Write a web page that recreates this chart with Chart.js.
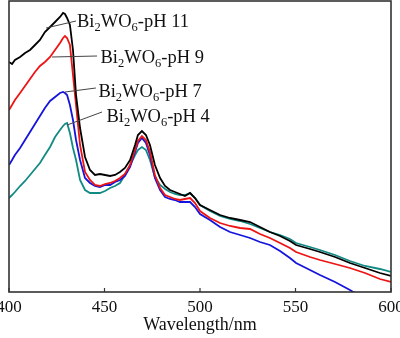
<!DOCTYPE html>
<html lang="en">
<head>
  <meta charset="UTF-8">
  <title>Bi2WO6 PL spectra</title>
  <script src="https://cdn.jsdelivr.net/npm/chart.js"></script>
  <style>
    html, body { margin: 0; padding: 0; background: #fff; }
    .wrap { width: 400px; height: 338px; position: relative; }
  </style>
</head>
<body>
  <div class="wrap">
    <canvas id="plChart" width="400" height="338"></canvas>
  </div>

  <script>
    // wavelength grid (nm) shared by all four spectra
    const wavelengths = [
      400.0, 401.6, 403.1, 405.8, 408.4, 411.0, 413.6, 416.2, 418.8, 421.5,
      424.1, 426.7, 428.3, 429.3, 430.4, 431.9, 433.5, 435.1, 437.2, 439.8,
      442.4, 445.0, 447.6, 450.3, 452.9, 455.5, 458.1, 460.7, 463.4, 466.0,
      467.5, 469.6, 471.7, 473.8, 476.4, 479.1, 481.7, 484.3, 486.9, 489.5,
      492.1, 494.8, 497.4, 500.0, 505.2, 510.5, 515.7, 521.0, 526.2, 531.4,
      536.6, 541.9, 547.1, 550.3, 557.6, 562.8, 570.7, 578.5, 586.4, 594.2,
      600.0
    ];

    // PL intensity (a.u.)
    const pH11 = [
      230, 228, 232, 235, 239, 242, 247, 252, 260, 265,
      270, 275, 279, 278, 274, 267, 242, 197, 164, 135,
      122, 117, 118, 117, 116, 117, 120, 124, 132, 147,
      157, 161, 157, 147, 127, 114, 106, 102, 100, 98,
      96, 99, 94, 87, 82, 77, 74, 72, 70, 65,
      60, 56, 51, 47, 43, 40, 35, 29, 24, 19,
      16
    ];
    const pH9 = [
      182, 187, 192, 199, 206, 213, 220, 226, 230, 235,
      242, 249, 254, 256, 254, 247, 217, 187, 147, 120,
      112, 107, 106, 108, 109, 111, 114, 118, 127, 142,
      151, 156, 152, 140, 117, 104, 97, 95, 93, 92,
      93, 94, 89, 81, 74, 69, 66, 64, 63, 58,
      54, 49, 44, 40, 35, 32, 28, 24, 19, 13,
      10
    ];
    const pH7 = [
      127, 132, 137, 144, 152, 160, 168, 176, 184, 191,
      195, 199, 200, 199, 197, 187, 172, 152, 132, 114,
      109, 106, 105, 107, 107, 110, 112, 116, 125, 140,
      149, 154, 149, 137, 114, 102, 95, 93, 92, 90,
      90, 90, 85, 78, 72, 65, 60, 57, 54, 50,
      47, 41, 34, 29, 22, 17, 10, 2, -7, null,
      null
    ];
    const pH4 = [
      94, 97, 100, 106, 111, 117, 123, 129, 137, 145,
      155, 162, 166, 168, 169, 159, 144, 132, 112, 102,
      99, 99, 99, 101, 104, 106, 109, 117, 127, 137,
      142, 145, 142, 132, 115, 107, 103, 100, 98, 97,
      97, 99, 94, 87, 81, 76, 73, 71, 68, 64,
      60, 57, 53, 49, 45, 42, 37, 31, 26, 23,
      20
    ];

    const seriesNames = ['pH 11', 'pH 9', 'pH 7', 'pH 4'];
    const seriesValues = [pH11, pH9, pH7, pH4];
    const xTicks = [400, 450, 500, 550, 600];

    const colors = ['#000000', '#ee1414', '#1414dc', '#128a84'];

    // leader line (from, to) and label anchor, in data units
    const callouts = [
      { from: [419.4, 264], to: [435.1, 271], text: [435.6, 265] },
      { from: [422.5, 235], to: [446.1, 236], text: [447.9, 229] },
      { from: [429.3, 200], to: [445.5, 204], text: [446.8, 195] },
      { from: [430.4, 167], to: [448.7, 180], text: [451.0, 170] }
    ];

    const SERIF = '"Liberation Serif", "Times New Roman", serif';

    function toPoints(vals) {
      return wavelengths.map((w, i) => ({ x: w, y: vals[i] }));
    }

    // Bi2WO6-pH xx with real subscripts
    function drawFormula(ctx, suffix, x, y) {
      const parts = [['Bi', false], ['2', true], ['WO', false], ['6', true], ['-' + suffix, false]];
      let cx = x;
      parts.forEach(([s, sub]) => {
        ctx.font = (sub ? '12.5px ' : '18.5px ') + SERIF;
        ctx.fillText(s, cx, sub ? y + 4 : y);
        cx += ctx.measureText(s).width;
      });
    }

    const framePlugin = {
      id: 'framePlugin',
      afterDatasetsDraw(chart) {
        const { ctx, chartArea: a, scales: { x, y } } = chart;
        ctx.save();

        // callout lines and labels
        ctx.strokeStyle = '#444';
        ctx.lineWidth = 1;
        ctx.fillStyle = '#111';
        ctx.textBaseline = 'alphabetic';
        ctx.textAlign = 'left';
        callouts.forEach((c, i) => {
          ctx.beginPath();
          ctx.moveTo(x.getPixelForValue(c.from[0]), y.getPixelForValue(c.from[1]));
          ctx.lineTo(x.getPixelForValue(c.to[0]), y.getPixelForValue(c.to[1]));
          ctx.stroke();
          drawFormula(ctx, seriesNames[i], x.getPixelForValue(c.text[0]), y.getPixelForValue(c.text[1]));
        });

        // plot frame
        ctx.strokeStyle = '#333';
        ctx.lineWidth = 1.6;
        ctx.strokeRect(a.left, a.top, a.right - a.left, a.bottom - a.top);

        // inward tick marks
        ctx.lineWidth = 1.2;
        x.ticks.forEach(t => {
          const px = x.getPixelForValue(t.value);
          ctx.beginPath();
          ctx.moveTo(px, a.bottom);
          ctx.lineTo(px, a.bottom - 4);
          ctx.stroke();
        });
        ctx.restore();
      }
    };

    const ctx = document.getElementById('plChart').getContext('2d');
    new Chart(ctx, {
      type: 'line',
      data: {
        datasets: seriesValues.map((vals, i) => ({
          label: 'Bi2WO6-' + seriesNames[i],
          data: toPoints(vals),
          borderColor: colors[i],
          borderWidth: 1.8,
          pointRadius: 0,
          tension: 0,
          fill: false,
          spanGaps: false
        }))
      },
      options: {
        responsive: false,
        animation: false,
        events: [],
        layout: { padding: { left: 9, right: 9, top: 1, bottom: 0 } },
        plugins: {
          legend: { display: false },
          tooltip: { enabled: false }
        },
        scales: {
          x: {
            type: 'linear',
            min: 400,
            max: 600,
            afterBuildTicks: scale => { scale.ticks = xTicks.map(v => ({ value: v })); },
            afterFit: scale => {
              scale.height = 46;
              scale.paddingLeft = 0;
              scale.paddingRight = 0;
            },
            grid: { display: false, drawTicks: false },
            border: { display: false },
            ticks: {
              padding: 5,
              color: '#111',
              maxRotation: 0,
              font: { family: SERIF, size: 17 }
            },
            title: {
              display: true,
              text: 'Wavelength/nm',
              color: '#111',
              padding: { top: 0, bottom: 2 },
              font: { family: SERIF, size: 18 }
            }
          },
          y: {
            display: false,
            min: 0,
            max: 291
          }
        }
      },
      plugins: [framePlugin]
    });
  </script>
</body>
</html>
